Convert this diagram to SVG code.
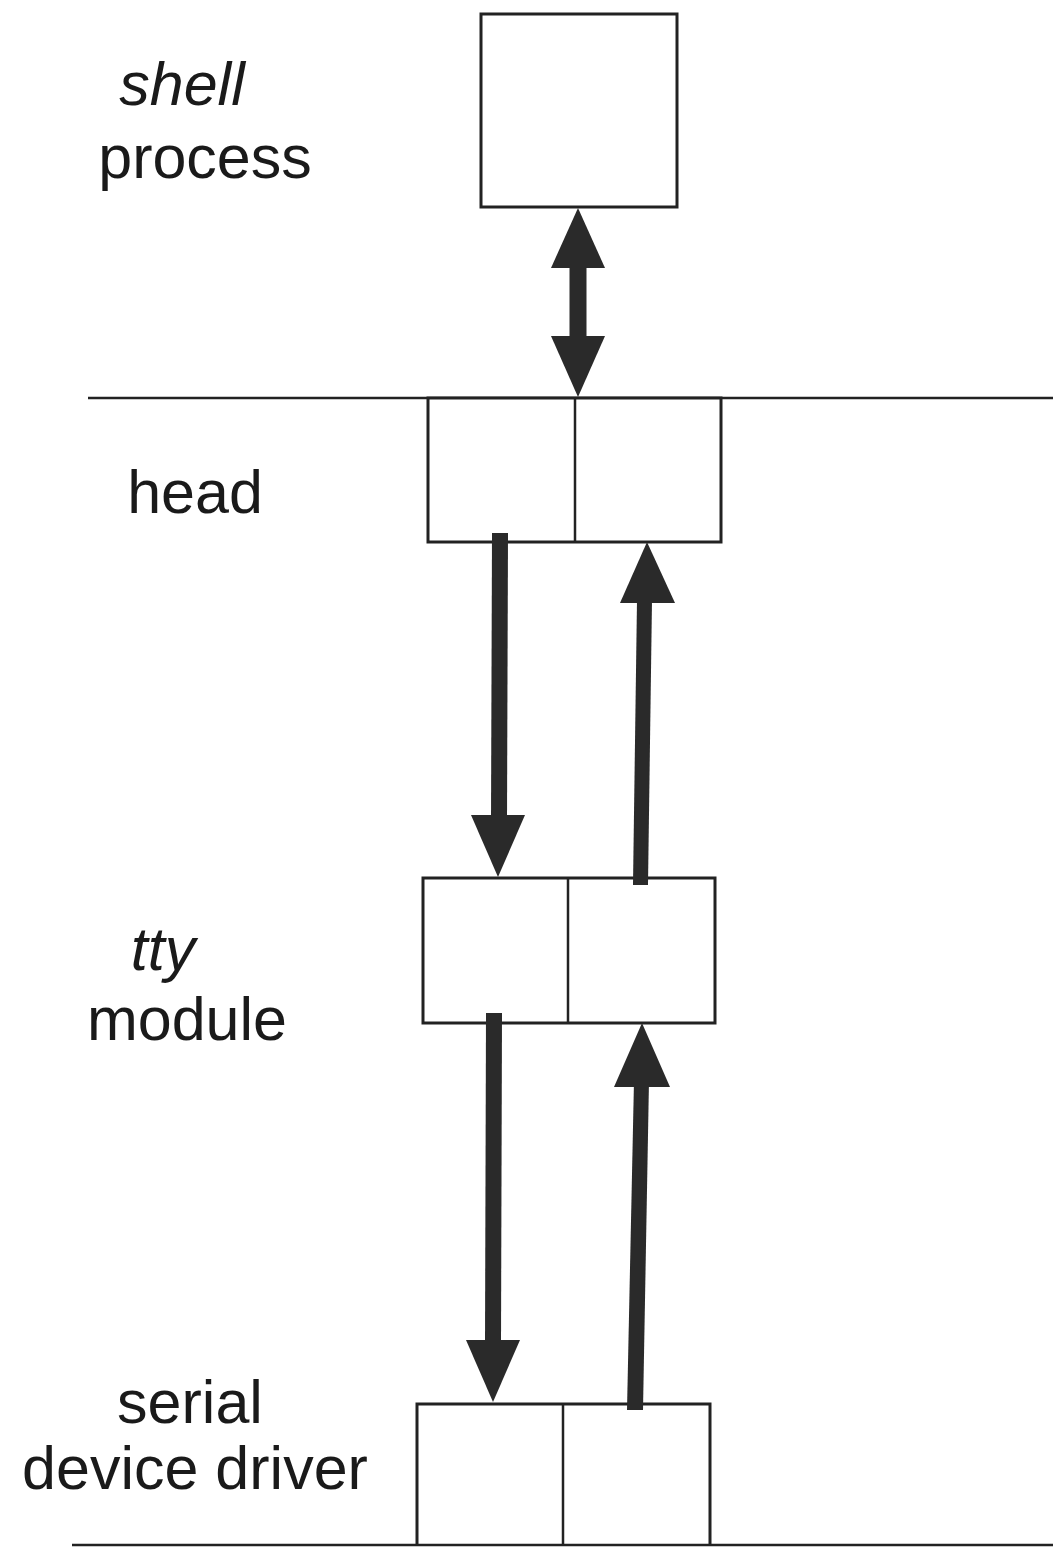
<svg xmlns="http://www.w3.org/2000/svg" width="1053" height="1547" viewBox="0 0 1053 1547">
<style>
.box{fill:#fff;stroke:#222;stroke-width:3}
.ln{stroke:#222;stroke-width:2.5;fill:none}
.arr{fill:#2a2a2a}
.lbl{font-family:"Liberation Sans",Arial,sans-serif;font-size:61px;fill:#1a1a1a;text-anchor:middle}
.it{font-style:italic}
</style>
<rect width="1053" height="1547" fill="#fff"/>
<g id="labels">
<text class="lbl it" x="182" y="105">shell</text>
<text class="lbl" x="205" y="178">process</text>
<text class="lbl" x="195" y="513">head</text>
<text class="lbl it" x="163" y="970">tty</text>
<text class="lbl" x="187" y="1040">module</text>
<text class="lbl" x="190" y="1423">serial</text>
<text class="lbl" x="195" y="1489">device driver</text>
</g>
<g id="lines">
<line class="ln" x1="88" y1="398" x2="1053" y2="398"/>
<line class="ln" x1="72" y1="1545" x2="1053" y2="1545"/>
</g>
<g id="shell-process">
<rect class="box" x="481" y="14" width="196" height="193"/>
</g>
<g id="head">
<rect class="box" x="428" y="398" width="293" height="144"/>
<line class="ln" x1="575" y1="398" x2="575" y2="542"/>
</g>
<g id="tty-module">
<rect class="box" x="423" y="878" width="292" height="145"/>
<line class="ln" x1="568" y1="878" x2="568" y2="1023"/>
</g>
<g id="serial-driver">
<path class="ln" style="stroke-width:3" d="M417 1545 V1404 H710 V1545"/>
<line class="ln" x1="563" y1="1404" x2="563" y2="1545"/>
</g>
<g id="connectors">
<polygon class="arr" points="569.5,264 586.5,264 586.5,340 569.5,340"/>
<polygon class="arr" points="578,208 551,268 605,268"/>
<polygon class="arr" points="551,336 605,336 578,397"/>
<polygon class="arr" points="492,533 508,533 507,820 491,820"/>
<polygon class="arr" points="471,815 525,815 498,877"/>
<polygon class="arr" points="637,600 652,600 648,885 633,885"/>
<polygon class="arr" points="647,542 620,603 675,603"/>
<polygon class="arr" points="486,1013 502,1013 501,1345 485,1345"/>
<polygon class="arr" points="466,1340 520,1340 493,1402"/>
<polygon class="arr" points="634,1080 649,1080 643,1410 627,1410"/>
<polygon class="arr" points="642,1023 614,1087 670,1087"/>
</g>
</svg>
